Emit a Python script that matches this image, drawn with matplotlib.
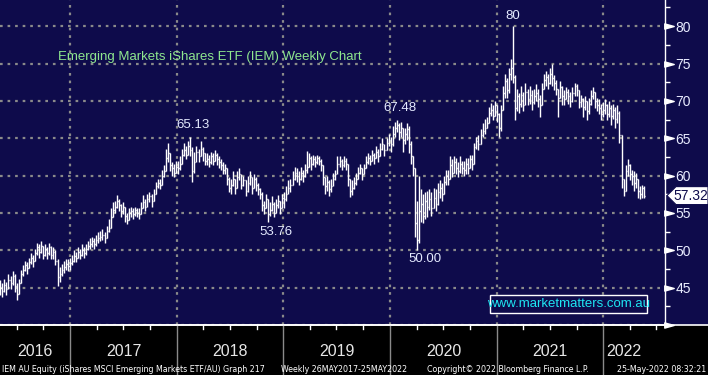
import matplotlib
matplotlib.use("Agg")
import matplotlib.pyplot as plt
import matplotlib.dates as mdates
import matplotlib.transforms as mtrans
from matplotlib.patches import Polygon, Rectangle
from matplotlib.path import Path
from matplotlib.lines import Line2D
import numpy as np
import pandas as pd

# weekly bars, Friday closes
week_start = "2016-05-06"
week_end = "2022-05-20"

close_2016 = [45.0, 44.6, 45.4, 44.8, 46.0, 45.6, 46.6, 45.2, 44.2, 45.6, 46.8, 47.4, 48.0, 47.6, 48.4,
              49.0, 48.6, 49.6, 50.4, 49.8, 50.6, 49.4, 50.2, 49.6, 50.4, 49.4, 49.8, 48.6, 46.4, 46.8,
              47.4, 47.8, 48.2, 47.9, 48.3]
high_2016 = [46.0, 45.6, 46.2, 45.8, 46.8, 46.6, 47.2, 46.8, 45.6, 46.2, 47.4, 48.0, 48.6, 48.4, 49.0,
             49.6, 49.4, 50.2, 51.0, 50.8, 51.2, 50.6, 50.8, 50.4, 51.0, 50.6, 50.4, 50.0, 48.8, 47.8,
             48.2, 48.6, 48.8, 48.8, 49.0]
low_2016 = [44.0, 43.8, 44.4, 44.0, 45.0, 44.8, 45.4, 44.4, 43.4, 44.2, 45.6, 46.6, 47.2, 46.8, 47.6,
            48.2, 47.8, 48.6, 49.4, 49.0, 49.6, 48.8, 49.2, 48.8, 49.4, 48.8, 48.8, 48.0, 45.2, 45.8,
            46.6, 47.0, 47.4, 47.2, 47.4]

close_2017 = [48.6, 49.2, 49.0, 49.8, 49.4, 50.0, 49.6, 50.2, 50.6, 50.8, 51.2, 50.8, 51.4, 51.6,
              51.8, 52.0, 51.6, 52.6, 53.0, 54.4, 55.4, 55.8, 56.6, 56.0, 55.2, 55.8, 54.6, 54.0, 55.0,
              55.2, 54.8, 55.4, 55.0, 54.8, 55.6, 56.4, 55.8, 56.8, 57.2, 56.6, 57.6,
              58.6, 59.0, 58.8, 60.0, 60.6, 62.4, 63.0, 61.4, 61.0, 60.4, 61.2]
high_2017 = [49.4, 50.0, 49.8, 50.4, 50.2, 50.8, 50.4, 50.8, 51.2, 51.6, 51.8, 51.6, 52.0, 52.4,
             52.6, 52.8, 52.4, 53.2, 54.2, 55.6, 56.4, 56.6, 57.4, 56.8, 56.2, 56.4, 55.8, 55.0, 55.6,
             55.8, 55.6, 55.8, 55.6, 55.6, 56.4, 57.4, 56.8, 57.6, 57.8, 57.6, 58.2,
             59.2, 59.6, 59.6, 60.8, 61.4, 63.6, 64.4, 63.0, 61.8, 61.6, 62.0]
low_2017 = [48.0, 48.4, 48.4, 49.0, 48.8, 49.2, 49.0, 49.4, 50.0, 50.2, 50.4, 50.2, 50.6, 51.0,
            51.2, 51.4, 51.0, 51.8, 52.4, 53.4, 54.6, 55.0, 55.6, 55.2, 54.4, 54.8, 53.8, 53.5, 54.2,
            54.4, 54.2, 54.6, 54.4, 54.2, 54.8, 55.6, 55.2, 56.0, 56.4, 55.8, 56.8,
            58.0, 58.4, 58.2, 59.2, 59.8, 60.6, 61.8, 60.6, 60.0, 59.8, 60.4]

close_2018 = [61.0, 61.6, 62.8, 63.4, 62.8, 64.0, 63.4, 60.6, 61.8, 63.2, 62.6, 63.6, 63.0, 62.0,
              62.2, 61.8, 62.6, 62.0, 62.8, 62.2, 61.8, 61.4, 60.8, 61.0, 59.6, 58.4,
              58.8, 59.6, 58.4, 59.8, 60.2, 58.8, 59.4, 58.0, 59.0, 59.8, 58.4, 59.6, 58.8, 58.2, 57.6,
              56.0, 55.6, 56.8, 54.8, 55.4, 56.2, 55.0, 56.0, 56.6, 55.6, 57.0]
high_2018 = [62.0, 62.6, 63.6, 64.4, 64.0, 64.6, 65.13, 63.8, 63.2, 64.0, 63.6, 64.6, 63.8, 63.0,
             63.0, 62.8, 63.2, 63.0, 63.4, 63.0, 62.6, 62.2, 61.8, 61.6, 60.6, 59.8,
             59.6, 60.6, 59.6, 60.6, 61.0, 60.0, 60.0, 59.0, 60.0, 60.6, 59.6, 60.2, 59.8, 59.0, 58.4,
             57.8, 56.6, 57.6, 56.2, 56.4, 57.2, 56.4, 56.8, 57.4, 56.6, 57.6]
low_2018 = [60.2, 60.8, 61.8, 62.6, 62.2, 63.2, 62.6, 59.1, 60.4, 62.2, 61.8, 62.6, 62.0, 61.4,
            61.4, 61.2, 61.6, 61.4, 62.0, 61.4, 61.0, 60.8, 60.2, 60.2, 58.8, 57.8,
            57.6, 58.6, 57.6, 58.6, 59.4, 58.2, 58.6, 57.2, 57.8, 58.8, 57.6, 58.4, 58.0, 57.4, 56.8,
            55.2, 54.8, 55.6, 53.76, 54.6, 55.2, 54.4, 55.0, 55.6, 54.8, 55.8]

close_2019 = [56.8, 57.6, 58.4, 58.8, 59.6, 60.4, 60.0, 59.6, 60.4, 60.0, 60.8, 61.2, 62.4, 61.6,
              62.2, 61.8, 62.4, 62.0, 61.4, 59.8, 58.6, 59.2, 58.2, 58.6, 59.6, 60.2,
              61.6, 62.0, 61.4, 62.0, 61.6, 59.6, 58.0, 58.4, 59.0, 59.6, 60.4, 61.0, 60.2, 61.0,
              61.8, 62.4, 62.0, 62.8, 62.4, 63.2, 62.6, 63.6, 64.2, 63.4, 64.4, 64.8]
high_2019 = [57.8, 58.6, 59.4, 59.6, 60.6, 61.2, 61.0, 60.6, 61.2, 60.8, 61.6, 63.3, 63.0, 62.6,
             62.8, 62.6, 62.8, 62.6, 62.2, 60.8, 59.8, 60.0, 59.4, 59.6, 60.4, 60.8,
             62.6, 62.6, 62.2, 62.6, 62.4, 61.0, 59.6, 59.4, 59.8, 60.4, 61.2, 61.6, 61.0, 61.6,
             62.6, 63.0, 62.8, 63.4, 63.0, 64.0, 63.6, 64.4, 65.0, 64.2, 65.0, 65.6]
low_2019 = [55.6, 56.6, 57.6, 57.8, 58.8, 59.4, 59.2, 58.8, 59.4, 59.2, 59.8, 60.4, 61.2, 60.8,
            61.4, 61.2, 61.6, 61.4, 60.6, 58.8, 57.6, 58.0, 57.2, 57.8, 58.8, 59.4,
            60.8, 61.2, 60.8, 61.2, 60.8, 58.6, 57.1, 57.4, 58.2, 58.8, 59.6, 60.2, 59.4, 60.2,
            61.0, 61.6, 61.4, 62.0, 61.6, 62.4, 61.8, 62.8, 63.4, 62.6, 63.6, 64.0]

close_2020 = [64.2, 65.6, 66.4, 66.8, 65.8, 66.4, 64.8, 65.6, 66.2, 64.2, 62.6, 61.0,
              53.6, 51.4, 55.2, 56.2, 54.6, 56.6, 55.8, 56.8, 55.6, 57.0, 56.2, 57.8, 58.4, 57.6,
              59.2, 60.0, 59.6, 61.4, 60.4, 61.8, 61.0, 60.6, 61.6, 61.0, 60.8, 61.6, 61.0, 62.2, 61.6,
              63.8, 64.6, 64.2, 65.4, 66.0, 66.4, 67.0, 68.4, 68.8, 68.0, 69.4]
high_2020 = [65.2, 66.6, 67.2, 67.48, 67.0, 67.2, 66.4, 66.4, 67.0, 66.6, 64.6, 62.4,
             60.8, 56.6, 60.0, 58.2, 57.6, 57.8, 58.0, 58.2, 57.8, 58.4, 58.2, 59.0, 59.4, 59.0,
             60.0, 60.8, 60.8, 62.6, 62.2, 62.6, 62.4, 61.8, 62.6, 62.0, 62.0, 62.4, 62.4, 62.8, 62.8,
             64.4, 65.2, 65.4, 66.2, 67.0, 67.6, 67.8, 69.2, 69.7, 69.4, 70.0]
low_2020 = [63.2, 64.0, 65.2, 65.8, 64.8, 65.2, 63.2, 64.2, 64.8, 63.0, 61.6, 60.0,
            51.8, 50.0, 51.0, 53.8, 53.6, 54.2, 54.4, 55.4, 54.6, 55.6, 55.2, 56.0, 57.0, 56.6,
            57.6, 58.8, 58.8, 59.8, 59.8, 60.4, 60.2, 59.8, 60.4, 60.2, 60.0, 60.2, 60.2, 61.0, 60.8,
            61.8, 63.6, 63.4, 64.4, 65.2, 65.6, 66.4, 67.2, 68.0, 67.4, 68.2]

close_2021 = [68.2, 66.4, 68.8, 71.0, 72.6, 71.4, 73.6, 74.4, 73.2, 69.0, 70.6,
              69.6, 70.8, 69.4, 71.2, 70.2, 70.8, 69.8, 70.6, 71.0, 70.2, 69.4,
              71.6, 72.8, 73.2, 72.4, 73.6, 73.0, 72.4, 71.6, 70.4, 71.8, 70.6,
              70.2, 71.2, 70.6, 70.0, 71.0, 72.0, 71.4, 69.8, 70.2, 69.2, 70.0, 68.6, 69.6,
              70.6, 71.2, 70.0, 69.4, 69.0, 68.2, 68.8]
high_2021 = [69.4, 68.4, 69.4, 72.0, 73.6, 73.0, 74.4, 75.6, 80.0, 73.4, 71.6,
             71.0, 72.0, 71.2, 72.4, 71.6, 72.0, 71.4, 71.6, 72.2, 71.6, 70.8,
             72.4, 73.6, 74.0, 73.6, 74.4, 75.0, 73.4, 72.8, 71.6, 72.6, 72.0,
             71.4, 71.8, 71.6, 71.2, 71.8, 72.4, 72.2, 71.2, 70.8, 70.4, 70.6, 69.6, 70.4,
             71.4, 71.8, 71.2, 70.4, 70.2, 69.6, 69.8]
low_2021 = [67.2, 65.2, 66.0, 68.8, 70.4, 70.4, 71.0, 72.8, 72.4, 67.4, 68.6,
            68.4, 69.2, 68.6, 69.4, 69.4, 69.6, 68.8, 69.6, 70.0, 69.2, 67.8,
            69.6, 71.6, 72.0, 71.6, 72.2, 72.0, 71.4, 70.8, 67.8, 70.4, 69.4,
            69.4, 70.2, 69.6, 69.2, 69.8, 70.6, 70.6, 69.0, 69.2, 67.8, 68.8, 67.4, 68.2,
            69.4, 70.2, 69.0, 68.6, 68.2, 67.4, 67.8]

close_2022 = [69.4, 68.2, 69.0, 68.0, 68.8, 67.6, 68.4, 65.4, 59.6, 58.0,
              60.6, 61.4, 60.2, 60.0, 59.0, 59.6, 58.0, 57.6, 58.4, 57.32]
high_2022 = [70.2, 69.6, 70.0, 69.4, 69.6, 69.2, 69.4, 68.6, 64.8, 59.6,
             61.4, 62.2, 61.6, 60.8, 60.6, 60.4, 59.6, 58.6, 58.8, 58.6]
low_2022 = [68.2, 67.4, 67.8, 66.8, 67.6, 66.4, 67.0, 64.4, 58.4, 57.2,
            58.6, 60.0, 59.4, 58.8, 58.0, 58.4, 57.0, 56.8, 57.0, 57.0]
first_open = 45.4

# labelled extremes: (text, week date, value, dx px, dy px)
peaks = [("80", "2021-02-26", 80.0, 0, 4),
         ("67.48", "2020-01-24", 67.48, 3, 6),
         ("65.13", "2018-02-16", 65.13, 3, 6),
         ("53.76", "2018-11-09", 53.76, 8, -4),
         ("50.00", "2020-04-03", 50.00, 8, -3)]

years = [2016, 2017, 2018, 2019, 2020, 2021, 2022]
price_levels = [40, 45, 50, 55, 60, 65, 70, 75, 80]
last_price = 57.32

title = "Emerging Markets iShares ETF (IEM) Weekly Chart"
footer = ["IEM AU Equity (iShares MSCI Emerging Markets ETF/AU) Graph 217",
          "Weekly 26MAY2017-25MAY2022",
          "Copyright\u00a9 2022 Bloomberg Finance L.P.",
          "25-May-2022 08:32:21"]

closes = close_2016 + close_2017 + close_2018 + close_2019 + close_2020 + close_2021 + close_2022
highs = high_2016 + high_2017 + high_2018 + high_2019 + high_2020 + high_2021 + high_2022
lows = low_2016 + low_2017 + low_2018 + low_2019 + low_2020 + low_2021 + low_2022
dates = pd.date_range(week_start, week_end, freq="W-FRI")
assert len(closes) == len(highs) == len(lows) == len(dates), (len(closes), len(highs), len(lows), len(dates))

NAVY = "#0e0b4b"
GRID = "#8a8a8a"
W, H = 708, 375

fig = plt.figure(figsize=(7.08, 3.75), dpi=100, facecolor=NAVY)
fig.patches.append(Rectangle((0, 0), 1, 50 / H, transform=fig.transFigure,
                             facecolor="black", edgecolor="none", zorder=-1))
fig.add_artist(Line2D([0, 1], [50 / H, 50 / H], color="white", lw=1.2, zorder=5))

ax = fig.add_axes([0, 50 / H, 665 / W, 325 / H])
ax.set_facecolor(NAVY)
ax.set_xlim(mdates.date2num(pd.Timestamp("2016-05-05")), mdates.date2num(pd.Timestamp("2022-07-31")))
ax.set_ylim(40.0, 83.5)

for s in ["left", "top"]:
    ax.spines[s].set_visible(False)
ax.spines["right"].set_color("white")
ax.spines["right"].set_linewidth(1.0)
ax.spines["bottom"].set_color("white")
ax.spines["bottom"].set_linewidth(1.2)

# grid
dots = (0, (1.2, 2.2))
for lvl in price_levels:
    ax.axhline(lvl, color=GRID, lw=1.6, ls=dots, zorder=1)
for yr in years[1:]:
    ax.axvline(mdates.date2num(pd.Timestamp(f"{yr}-01-01")), color=GRID, lw=1.6, ls=dots, zorder=1)

# OHLC bars
xs = mdates.date2num(dates)
opens = [first_open] + closes[:-1]
top = np.maximum.reduce([highs, opens, closes])
bot = np.minimum.reduce([lows, opens, closes])
tick = 3.0
ax.vlines(xs, bot, top, color="white", lw=1.0, zorder=3)
ax.hlines(opens, xs - tick, xs, color="white", lw=1.0, zorder=3)
ax.hlines(closes, xs, xs + tick, color="white", lw=1.0, zorder=3)

# peak / trough labels
for txt, d, v, dx, dy in peaks:
    ax.annotate(txt, xy=(mdates.date2num(pd.Timestamp(d)), v), xytext=(dx, dy),
                textcoords="offset pixels", ha="center", va="bottom" if dy > 0 else "top",
                color="#e4eaff", fontsize=9.5, family=["Liberation Sans", "DejaVu Sans"], zorder=4)

# right price axis
ax.yaxis.tick_right()
ax.set_yticks(price_levels[1:])
ax.set_yticklabels([str(v) for v in price_levels[1:]])
ax.set_yticks(np.arange(42.5, 83.0, 5.0), minor=True)
ax.tick_params(axis="y", which="major", length=0, pad=7.5, labelsize=10, labelcolor="#e8ecff")
ax.tick_params(axis="y", which="minor", length=3.5, width=1, color="white", direction="out")
for lab in ax.get_yticklabels():
    lab.set_family(["Liberation Sans", "DejaVu Sans"])
tri = Path([(-1, -0.55), (1, 0), (-1, 0.55), (-1, -0.55)],
           [Path.MOVETO, Path.LINETO, Path.LINETO, Path.CLOSEPOLY])
ax.plot([1 + 4.5 / 665] * len(price_levels), price_levels, transform=ax.get_yaxis_transform(),
        marker=tri, ms=6.8, color="white", ls="none", clip_on=False, zorder=6)

# last price marker
bt = mtrans.blended_transform_factory(fig.transFigure, ax.transData)
hh = 9 / 7.48
box = Polygon([(667 / W, last_price), (676 / W, last_price + hh), (1.0, last_price + hh),
               (1.0, last_price - hh), (676 / W, last_price - hh)],
              closed=True, transform=bt, facecolor="white", edgecolor=NAVY, lw=0.8, zorder=10)
fig.patches.append(box)
fig.text(691 / W, last_price, f"{last_price:.2f}", transform=bt, ha="center", va="center",
         color=NAVY, fontsize=10, family=["Liberation Sans", "DejaVu Sans"], zorder=11)

# x axis band: quarter ticks, year dividers, year labels
ax.set_xticks([])
xt = ax.get_xaxis_transform()
quarters = pd.date_range("2016-07-01", "2022-07-01", freq="QS")
for q in quarters:
    qx = mdates.date2num(q)
    if q.month == 1:
        ax.plot([qx, qx], [0, -50 / 325], transform=xt, color=GRID, lw=1.0, clip_on=False, zorder=6)
    else:
        ax.plot([qx, qx], [0, -4 / 325], transform=xt, color="white", lw=1.0, clip_on=False, zorder=6)
x_left, _ = ax.get_xlim()
for yr in years:
    a = max(mdates.date2num(pd.Timestamp(f"{yr}-01-01")), x_left)
    b = min(mdates.date2num(pd.Timestamp(f"{yr + 1}-01-01")), xs[-1])
    ax.text((a + b) / 2, -27 / 325, str(yr), transform=xt, ha="center", va="center",
            color="#e6e6e6", fontsize=11.5, family=["Liberation Sans Narrow", "Liberation Sans", "DejaVu Sans"])

# title and watermark
fig.text(58 / W, 1 - 57 / H, title, ha="left", va="center", color="#8fe88f",
         fontsize=9.5, family=["Liberation Sans", "DejaVu Sans"])
fig.patches.append(Rectangle((490 / W, 1 - 313 / H), 157 / W, 18 / H, transform=fig.transFigure,
                             facecolor=NAVY, edgecolor="white", lw=1.0, zorder=8))
fig.text(568.5 / W, 1 - 304 / H, "www.marketmatters.com.au", ha="center", va="center",
         color="#1ee6f2", fontsize=9.5, family=["Liberation Sans", "DejaVu Sans"], zorder=9)

# footer
fpos = [(2, "left"), (281, "left"), (427, "left"), (706, "right")]
for (px, ha), txt in zip(fpos, footer):
    fig.text(px / W, 1 - 369 / H, txt, ha=ha, va="center", color="white", fontsize=5.7,
             family=["Liberation Sans Narrow", "DejaVu Sans"])

fig.savefig("out.png", dpi=100, facecolor=fig.get_facecolor())
